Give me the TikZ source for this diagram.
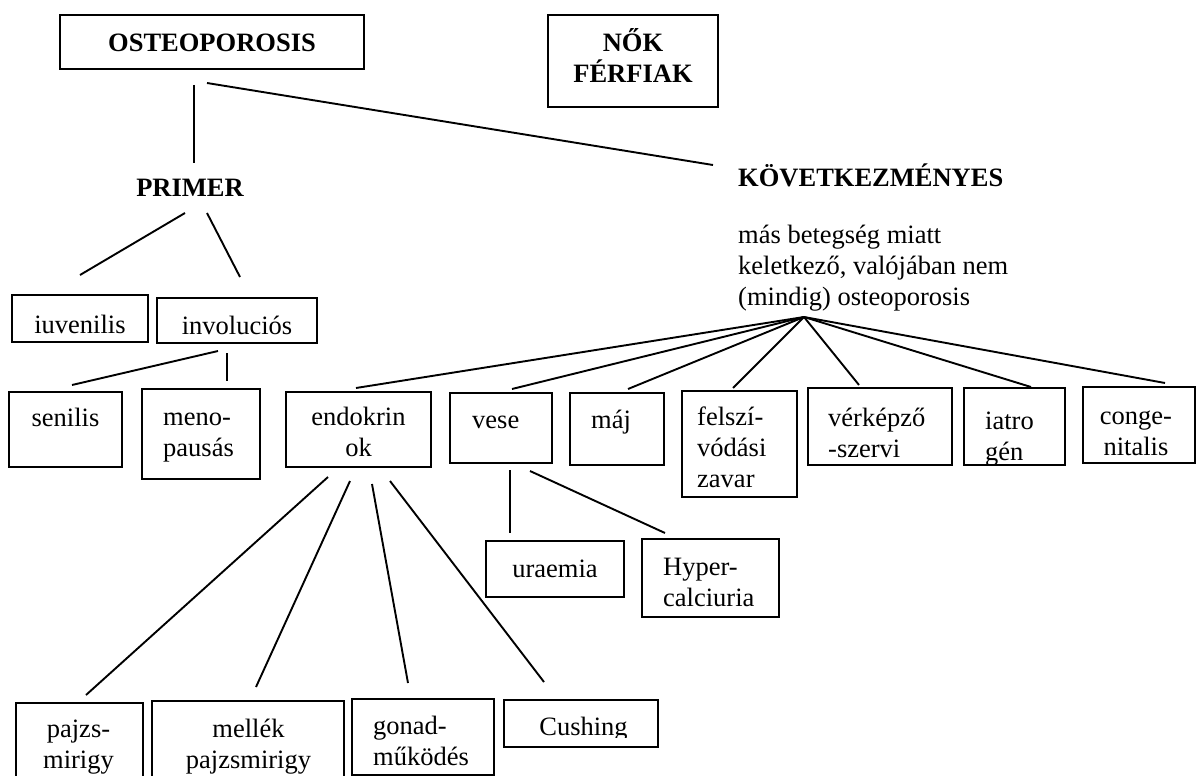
\documentclass[tikz,border=0pt]{standalone}
\usepackage{fontspec}
\setmainfont{Liberation Serif}
\newcommand\fs{\fontsize{26.5}{31}\selectfont}
\tikzset{
  box/.style={draw, line width=1.9pt, inner sep=0pt, rectangle},
  txt/.style={inner sep=0pt, font=\fs, align=left},
  ctxt/.style={inner sep=0pt, font=\fs, align=center},
  conn/.style={line width=1.9pt},
}
\begin{document}
\begin{tikzpicture}[x=1pt,y=-1pt]
\useasboundingbox[fill=white] (0,0) rectangle (1197,776);

% ---- boxes ----
\node[box, minimum width=304pt, minimum height=54pt] (osteo) at (212,42) {};
\node[box, minimum width=170pt, minimum height=92pt] (nok) at (633,61) {};
\node[box, minimum width=136pt, minimum height=47pt] (iuv) at (80,318.5) {};
\node[box, minimum width=160pt, minimum height=45pt] (invol) at (237,320.5) {};
\node[box, minimum width=113pt, minimum height=75pt] (sen) at (65.5,429.5) {};
\node[box, minimum width=118pt, minimum height=90pt] (meno) at (201,434) {};
\node[box, minimum width=145pt, minimum height=75pt] (endo) at (358.5,429.5) {};
\node[box, minimum width=102pt, minimum height=70pt] (vese) at (501,428) {};
\node[box, minimum width=94pt, minimum height=72pt] (maj) at (617,429) {};
\node[box, minimum width=115pt, minimum height=106pt] (felsz) at (739.5,444) {};
\node[box, minimum width=144pt, minimum height=77pt] (verk) at (880,426.5) {};
\node[box, minimum width=101pt, minimum height=77pt] (iatro) at (1014.5,426.5) {};
\node[box, minimum width=112pt, minimum height=76pt] (cong) at (1139,425) {};
\node[box, minimum width=138pt, minimum height=56pt] (urae) at (555,569) {};
\node[box, minimum width=137pt, minimum height=78pt] (hyper) at (710.5,578) {};
\node[box, minimum width=127pt, minimum height=100pt] (pajzs) at (79.5,753) {};
\node[box, minimum width=192pt, minimum height=100pt] (mellek) at (248,751) {};
\node[box, minimum width=142pt, minimum height=76pt] (gonad) at (423,737) {};
\node[box, minimum width=154pt, minimum height=47pt] (cush) at (581,723.5) {};

% ---- texts (anchor=base is the baseline of the last line) ----
\node[ctxt, anchor=base, font=\fs\bfseries] (osteo-t) at (212,52) {OSTEOPOROSIS};
\node[ctxt, anchor=base, font=\fs\bfseries] (nok-t) at (633,82) {NŐK\\FÉRFIAK};
\node[ctxt, anchor=base, font=\fs\bfseries] (primer) at (190,196) {PRIMER};
\node[txt, anchor=base west, font=\fs\bfseries] (kovet) at (738,186) {KÖVETKEZMÉNYES};
\node[txt, anchor=base west] (masb) at (738,305) {más betegség miatt\\keletkező, valójában nem\\(mindig) osteoporosis};

\node[ctxt, anchor=base] (iuv-t) at (80,333) {iuvenilis};
\node[ctxt, anchor=base] (invol-t) at (237,334) {involuciós};
\node[ctxt, anchor=base] (sen-t) at (65.5,426) {senilis};
\node[txt, anchor=base west] (meno-t) at (163,456) {meno-\\pausás};
\node[ctxt, anchor=base] (endo-t) at (358.5,456) {endokrin\\ok};
\node[txt, anchor=base west] (vese-t) at (472,428) {vese};
\node[txt, anchor=base west] (maj-t) at (591,428) {máj};
\node[txt, anchor=base west] (felsz-t) at (697,487) {felszí-\\vódási\\zavar};
\node[txt, anchor=base west] (verk-t) at (828,457) {vérképző\\-szervi};
\begin{scope}
\clip (964,388) rectangle (1065,463);
\node[txt, anchor=base west] (iatro-t) at (985,460) {iatro\\gén};
\end{scope}
\node[ctxt, anchor=base] (cong-t) at (1136,455) {conge-\\nitalis};
\node[ctxt, anchor=base] (urae-t) at (555,577) {uraemia};
\node[txt, anchor=base west] (hyper-t) at (663,606) {Hyper-\\calciuria};
\node[ctxt, anchor=base] (pajzs-t) at (78.5,768) {pajzs-\\mirigy};
\node[ctxt, anchor=base] (mellek-t) at (248.5,768) {mellék\\pajzsmirigy};
\node[txt, anchor=base west] (gonad-t) at (373,765) {gonad-\\működés};
\begin{scope}
\clip (504,700) rectangle (658,737.5);
\node[ctxt, anchor=base] (cush-t) at (583.5,735) {Cushing};
\end{scope}

% ---- connector end points ----
\coordinate (o1) at (194,85);   \coordinate (p1) at (194,163);
\coordinate (o2) at (207,83);   \coordinate (k1) at (713,165);
\coordinate (pr1) at (185,213); \coordinate (iu1) at (80,275);
\coordinate (pr2) at (207,213); \coordinate (in1) at (240,277);
\coordinate (in2) at (218,351); \coordinate (se1) at (72,385);
\coordinate (in3) at (227,353); \coordinate (me1) at (227,381);
\coordinate (apex) at (804,317);
\coordinate (en1) at (356,388);
\coordinate (ve1) at (512,389);
\coordinate (ma1) at (628,389);
\coordinate (fe1) at (733,388);
\coordinate (vk1) at (859,385);
\coordinate (ia1) at (1031,387);
\coordinate (co1) at (1165,383);
\coordinate (ve2) at (510,470);  \coordinate (ur1) at (510,533);
\coordinate (ve3) at (530,471);  \coordinate (hy1) at (665,533);
\coordinate (en2) at (328,477);  \coordinate (pa1) at (86,695);
\coordinate (en3) at (350,481);  \coordinate (me2) at (256,687);
\coordinate (en4) at (372,484);  \coordinate (go1) at (408,683);
\coordinate (en5) at (390,481);  \coordinate (cu1) at (544,682);

% ---- connectors ----
\draw[conn] (o1) -- (p1);
\draw[conn] (o2) -- (k1);
\draw[conn] (pr1) -- (iu1);
\draw[conn] (pr2) -- (in1);
\draw[conn] (in2) -- (se1);
\draw[conn] (in3) -- (me1);
\draw[conn] (apex) -- (en1);
\draw[conn] (apex) -- (ve1);
\draw[conn] (apex) -- (ma1);
\draw[conn] (apex) -- (fe1);
\draw[conn] (apex) -- (vk1);
\draw[conn] (apex) -- (ia1);
\draw[conn] (apex) -- (co1);
\draw[conn] (ve2) -- (ur1);
\draw[conn] (ve3) -- (hy1);
\draw[conn] (en2) -- (pa1);
\draw[conn] (en3) -- (me2);
\draw[conn] (en4) -- (go1);
\draw[conn] (en5) -- (cu1);
\end{tikzpicture}
\end{document}
